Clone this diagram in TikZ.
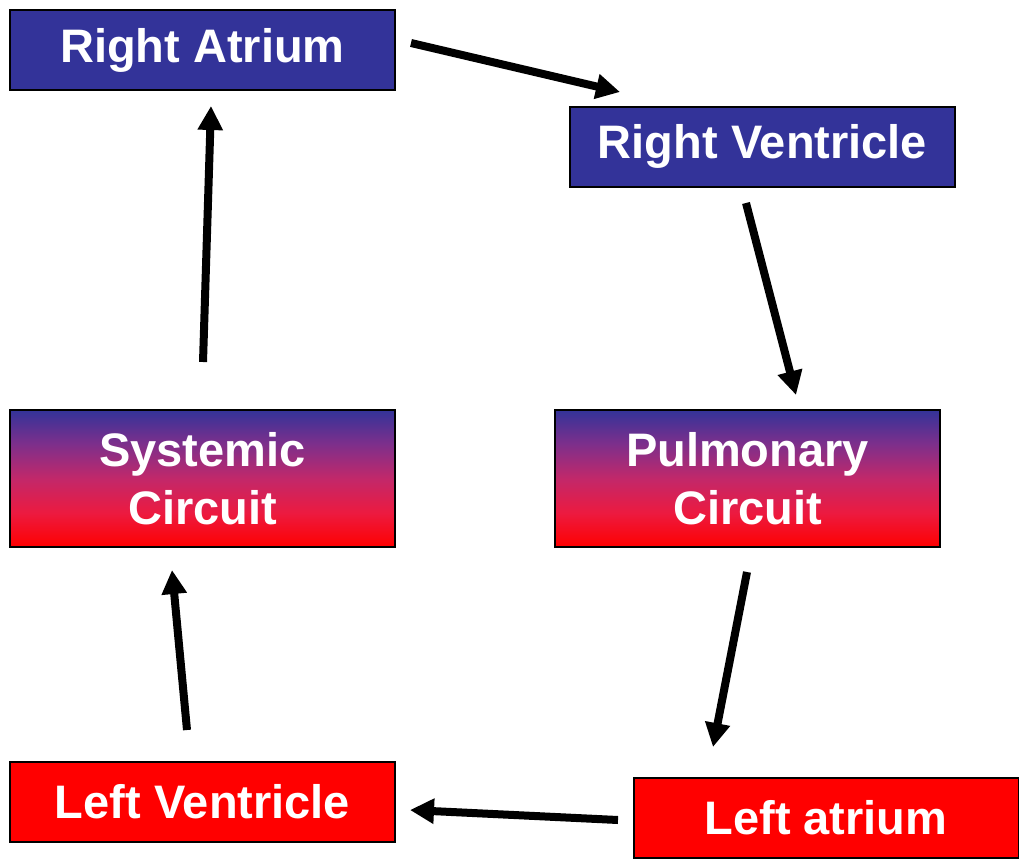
\documentclass[tikz,border=0pt]{standalone}
\usepackage{fontspec}
\setmainfont{Liberation Sans}
\usetikzlibrary{arrows.meta}
\definecolor{navy}{HTML}{333399}
\definecolor{bred}{HTML}{FF0000}
\definecolor{gA}{HTML}{EC1A40}
\definecolor{gB}{HTML}{C2286A}
\definecolor{gC}{HTML}{7E2F8B}
\pgfdeclareverticalshading{heart}{100bp}{color(0bp)=(bred); color(25bp)=(bred); color(37.5bp)=(gA); color(50bp)=(gB); color(62.5bp)=(gC); color(75bp)=(navy); color(100bp)=(navy)}
\tikzset{
  box/.style={draw=black, line width=2pt, rectangle, inner sep=0pt,
    minimum width=385pt, text=white, align=center,
    font=\fontsize{47}{58}\selectfont\bfseries},
  plain/.style={box, minimum height=80pt},
  grad/.style={box, minimum height=137pt, shading=heart},
  flow/.style={line width=8pt, -{Triangle[length=24pt,width=24pt]}}
}
\begin{document}
\begin{tikzpicture}[x=1pt,y=-1pt]
\useasboundingbox (0,0) rectangle (1019,865);
\node[plain, fill=navy] (ra) at (202.5,50) {Right Atrium};
\node[plain, fill=navy] (rv) at (762.5,146.5) {Right Ventricle};
\node[grad] (sc) at (202.5,478.5) {Systemic\\Circuit};
\node[grad] (pc) at (747.5,478.5) {Pulmonary\\Circuit};
\node[plain, fill=bred] (lv) at (202.5,802) {Left Ventricle};
\node[plain, fill=bred] (la) at (826,818) {Left atrium};
\coordinate (a1s) at (411,43);  \coordinate (a1e) at (620,92);
\coordinate (a2s) at (746,203); \coordinate (a2e) at (796,395);
\coordinate (a3s) at (747,572); \coordinate (a3e) at (713,747);
\coordinate (a4s) at (618,820); \coordinate (a4e) at (410,810);
\coordinate (a5s) at (187,730); \coordinate (a5e) at (172,570);
\coordinate (a6s) at (203,362); \coordinate (a6e) at (211,106);
\draw[flow] (a1s) -- (a1e);
\draw[flow] (a2s) -- (a2e);
\draw[flow] (a3s) -- (a3e);
\draw[flow] (a4s) -- (a4e);
\draw[flow] (a5s) -- (a5e);
\draw[flow] (a6s) -- (a6e);
\end{tikzpicture}
\end{document}
